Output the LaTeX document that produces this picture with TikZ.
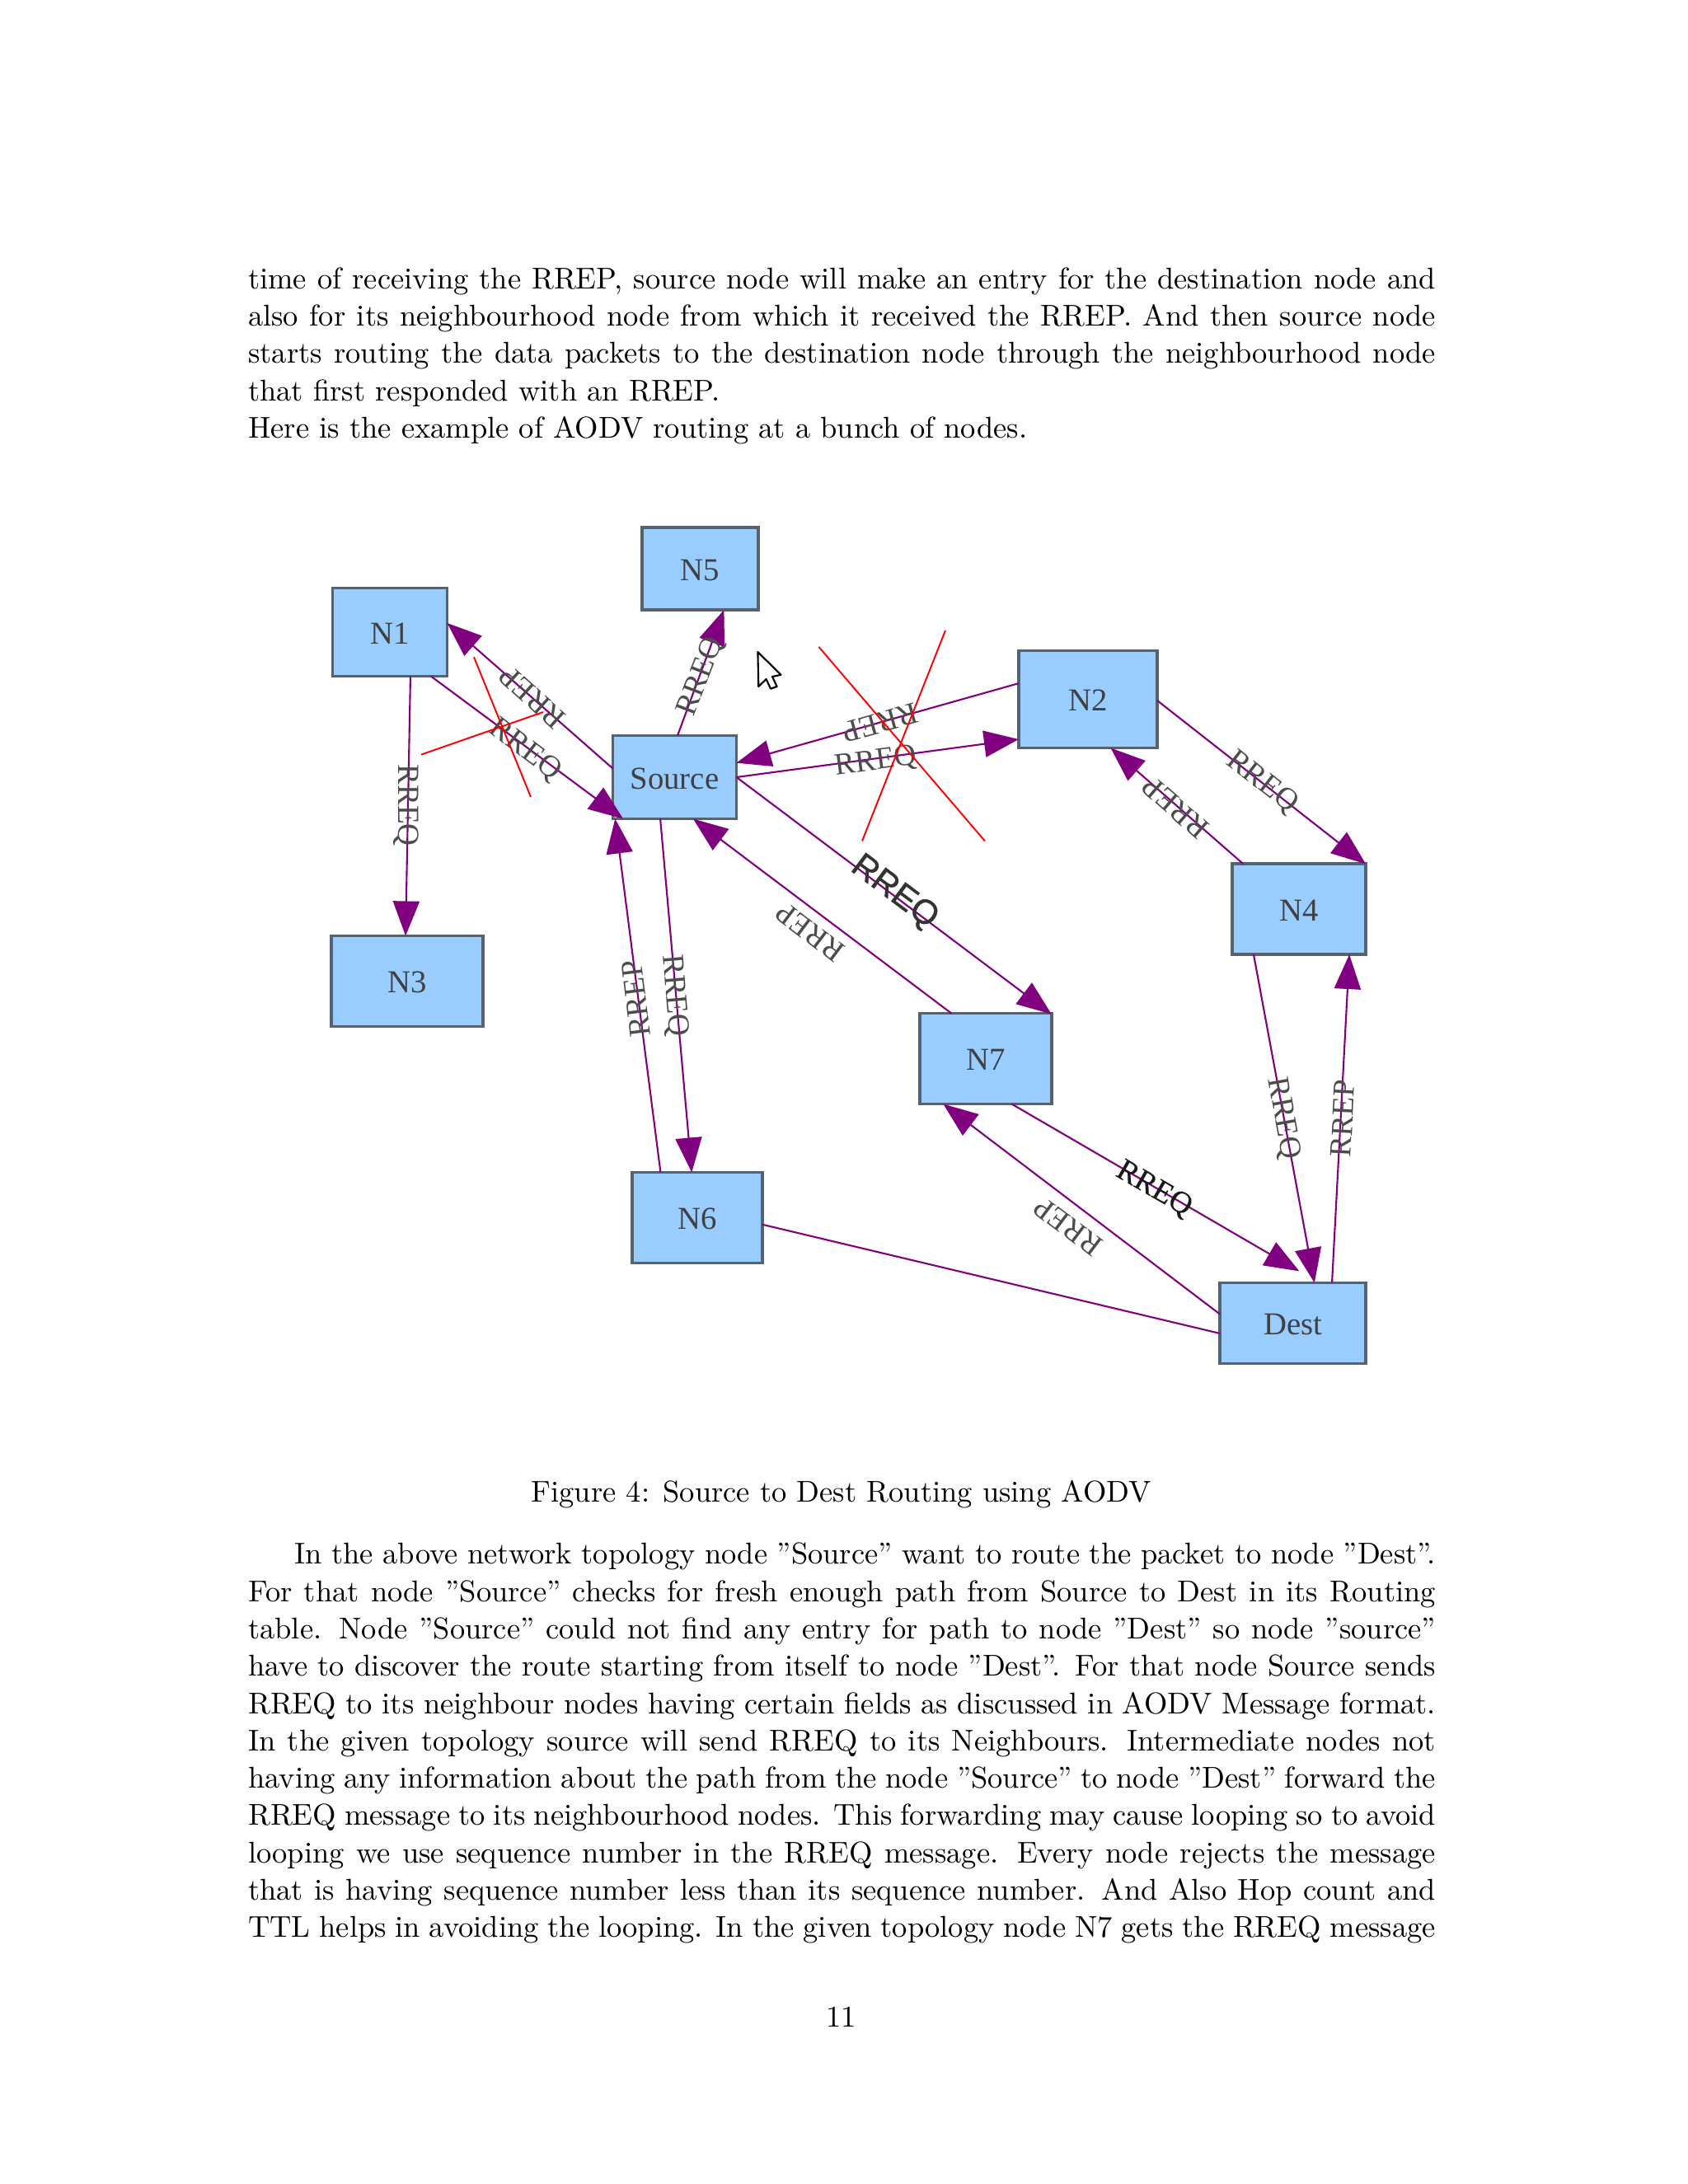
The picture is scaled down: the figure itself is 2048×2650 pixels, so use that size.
\documentclass[tikz,border=0pt]{standalone}
\usepackage{xcolor}
\usepackage{fontspec}
\newfontfamily\diagfont{Liberation Serif}
\newfontfamily\diagboldfont[FakeBold=0.5]{Liberation Serif}
\newfontfamily\rreqfont[FakeBold=1]{Liberation Sans}
\usetikzlibrary{arrows.meta, positioning}
\definecolor{boxblue}{HTML}{99CCFF}
\definecolor{boxedge}{HTML}{56626E}
\definecolor{linkpurple}{HTML}{800080}

\begin{document}
\begin{tikzpicture}[
    x=0.01cm, y=-0.01cm,
    netnode/.style={draw=boxedge, fill=boxblue, line width=1.1pt, outer sep=0pt, text height=8.2pt, text depth=0pt, text=black!75, font=\diagfont\fontsize{11}{13}\selectfont},
    link/.style={linkpurple, line width=0.6pt},
    arrow/.style={link, -{Triangle[length=0.42cm, width=0.32cm]}},
    msg/.style={inner sep=0pt, text=black!70, font=\diagfont\fontsize{10.6}{12}\selectfont},
    crossline/.style={red, line width=0.55pt},
    pagetext/.style={inner sep=0pt, anchor=north west, text width=14.4cm, align=justify, font=\fontsize{10.38}{12.9}\selectfont}
]
    \useasboundingbox (0,0) rectangle (2048,2650);
    \fill[white] (0,0) rectangle (2048,2650);

    % Text above
    \node[pagetext] (above) at (300.5,323.7) {time of receiving the RREP, source node will make an entry for the destination node and\linebreak
    also for its neighbourhood node from which it received the RREP. And then source node\linebreak
    starts routing the data packets to the destination node through the neighbourhood node\linebreak
    that first responded with an RREP.\\
    Here is the example of AODV routing at a bunch of nodes.};

    % Nodes
    \node[netnode, minimum width=1.39cm, minimum height=1.07cm] (N1) at (473,767) {N1};
    \node[netnode, minimum width=1.84cm, minimum height=1.10cm] (N3) at (494,1190.5) {N3};
    \node[netnode, minimum width=1.41cm, minimum height=1.00cm] (N5) at (849.5,690) {N5};
    \node[netnode, minimum width=1.50cm, minimum height=1.01cm] (Source) at (818.5,943) {Source};
    \node[netnode, minimum width=1.68cm, minimum height=1.18cm] (N2) at (1320,848.5) {N2};
    \node[netnode, minimum width=1.62cm, minimum height=1.10cm] (N4) at (1576,1103) {N4};
    \node[netnode, minimum width=1.60cm, minimum height=1.10cm] (N7) at (1195.7,1284.5) {N7};
    \node[netnode, minimum width=1.58cm, minimum height=1.10cm] (N6) at (846,1477.5) {N6};
    \node[netnode, minimum width=1.77cm, minimum height=0.98cm] (Dest) at (1568.7,1605.5) {Dest};

    % Connections
    \foreach \i/\j in {N1.-65.2/N3.92.3, Source.172.3/N1.9.2, N1.-47.7/Source.-141.8, Source.86.2/N5.-60.6,
        N2.167.8/Source.13.3, Source.0.7/N2.-150.5, Source.0.3/N7.34.6, N7.127.7/Source.-66.1,
        N2.-1/N4.34.3, N4.141.4/N2.-65.3, Source.-109.9/N6.97, N6.129.8/Source.-145.9,
        Dest.173.6/N7.-133.6, N4.-135.5/Dest.62.1, Dest.46.9/N4.-42.2} {
        \draw[arrow] (\i) -- (\j);
    }
    \draw[arrow, shorten >=0.28cm] (N7.-60.2) -- (Dest.57.4);
    \draw[link] (N6.-6.4) -- (Dest.188.6);

    % Labels
    \node[msg, rotate=-90] (reqN3) at (492.5,977) {RREQ};
    \node[msg, rotate=138] (repN1) at (645.7,846) {RREP};
    \node[msg, rotate=-37] (reqS) at (636.8,910.3) {RREQ};
    \node[msg, rotate=69] (reqN5) at (851,821) {RREQ};
    \node[msg, rotate=195.6] (repS) at (1068,877) {RREP};
    \node[msg, rotate=7.6] (reqN2) at (1063,924.7) {RREQ};
    \node[inner sep=0pt, rotate=-36.8, text=black!80, font=\rreqfont\fontsize{11.8}{14}\selectfont] (reqN7) at (1085,1083) {RREQ};
    \node[msg, rotate=143] (repN7) at (982.8,1131) {RREP};
    \node[msg, rotate=-38] (reqN4) at (1531,949.6) {RREQ};
    \node[msg, rotate=139] (repN2) at (1426.5,980) {RREP};
    \node[msg, rotate=97] (repN6) at (772,1212) {RREP};
    \node[msg, rotate=-85] (reqN6) at (818,1208) {RREQ};
    \node[msg, rotate=143] (repD) at (1296,1488.5) {RREP};
    \node[msg, rotate=-30, text=black!90, font=\diagboldfont\fontsize{10.6}{12}\selectfont] (reqD) at (1400,1443) {RREQ};
    \node[msg, rotate=-80] (reqDt) at (1556.5,1357) {RREQ};
    \node[msg, rotate=87] (repN4) at (1629,1357) {RREP};

    % Crosses
    \draw[crossline] (575,797.3) -- (644,967);
    \draw[crossline] (511,915.6) -- (659,864);
    \draw[crossline] (993.5,785) -- (1194.9,1020.4);
    \draw[crossline] (1147,765) -- (1046,1020.4);

    % Cursor
    \draw[black, fill=white, line width=0.6pt, line join=round] (919.4,791) -- (920.3,833) -- (929.6,824) -- (935,835.7) -- (942.6,833) -- (937,821) -- (947.5,818.8) -- cycle;

    % Caption and text below
    \node[inner sep=0pt, font=\fontsize{10.38}{12.9}\selectfont] (caption) at (1020.7,1813) {Figure 4: Source to Dest Routing using AODV};
    \node[pagetext, font=\fontsize{10.38}{12.87}\selectfont] (below) at (300.5,1871.5) {\hspace*{0.56cm}In the above network topology node ”Source” want to route the packet to node ”Dest”.\linebreak
    For that node ”Source” checks for fresh enough path from Source to Dest in its Routing\linebreak
    table. Node ”Source” could not find any entry for path to node ”Dest” so node ”source”\linebreak
    have to discover the route starting from itself to node ”Dest”. For that node Source sends\linebreak
    RREQ to its neighbour nodes having certain fields as discussed in AODV Message format.\linebreak
    In the given topology source will send RREQ to its Neighbours. Intermediate nodes not\linebreak
    having any information about the path from the node ”Source” to node ”Dest” forward the\linebreak
    RREQ message to its neighbourhood nodes. This forwarding may cause looping so to avoid\linebreak
    looping we use sequence number in the RREQ message. Every node rejects the message\linebreak
    that is having sequence number less than its sequence number. And Also Hop count and\linebreak
    TTL helps in avoiding the looping. In the given topology node N7 gets the RREQ message\parfillskip=0pt\par};
    \node[inner sep=0pt, font=\fontsize{10.38}{12.9}\selectfont] (pagenum) at (1020.7,2447) {11};
\end{tikzpicture}
\end{document}
